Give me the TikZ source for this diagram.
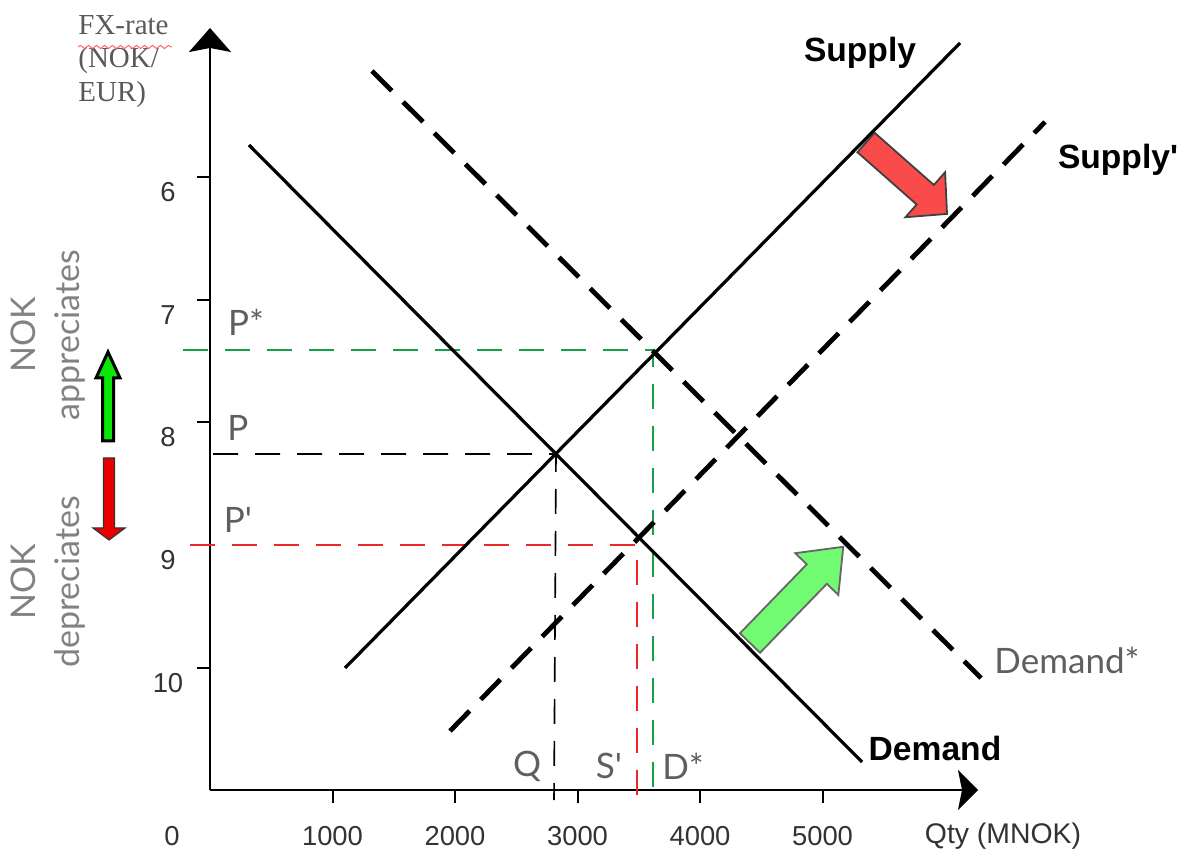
\documentclass[tikz,border=0pt]{standalone}
\usepackage{fontspec}
\setmainfont{Liberation Sans}
\newfontfamily\labfont{Lato}
\newfontfamily\fxfont{Liberation Serif}
\usetikzlibrary{arrows.meta,decorations.pathmorphing}
\definecolor{guidegreen}{RGB}{20,160,70}
\definecolor{guidered}{RGB}{235,40,40}
\definecolor{labgray}{RGB}{95,95,95}
\definecolor{nokgray}{RGB}{130,130,130}
\definecolor{shiftred}{RGB}{250,75,75}
\definecolor{shiftgreen}{RGB}{115,250,115}
\definecolor{upgreen}{RGB}{10,230,10}
\definecolor{downred}{RGB}{235,0,0}
\begin{document}
\begin{tikzpicture}[x=0.5pt,y=-0.5pt,
		curve/.style={line width=1.6pt},
		shifted/.style={line width=2.4pt,dash pattern=on 14pt off 8pt},
		guide/.style={line width=0.8pt,dash pattern=on 12.5pt off 8.5pt},
		axis/.style={line width=1pt},
		curvelabel/.style={font=\bfseries\fontsize{16.8}{20}\selectfont},
		pricelabel/.style={text=labgray,font=\labfont\fontsize{17.5}{21}\selectfont},
		ticklabel/.style={text=black!80,font=\fontsize{13.7}{16}\selectfont},
		movelabel/.style={text=nokgray,rotate=90,align=center,font=\labfont\fontsize{17}{22}\selectfont},
		shiftarrow/.style={line width=0.9pt,line join=miter}]
	\useasboundingbox (0,0) rectangle (1187,854);
	\coordinate (O) at (210,790);
	\coordinate (ytip) at (210,28);
	\coordinate (xtip) at (978,790);
	\draw[axis,-{Stealth[width=21pt,length=12pt,inset=2pt]}] (O)--(ytip);
	\draw[axis,-{Stealth[width=20pt,length=10pt,inset=2pt]}] (O)--(xtip);
	\foreach \k in {6,...,10} {
		\pgfmathsetmacro\yy{177+122.75*(\k-6)}
		\draw[axis] (197,\yy)--(210,\yy);
		\node[ticklabel] (y\k) at (168,\yy+15) {\k};
	};
	\foreach \k in {1,...,5} {
		\pgfmathtruncatemacro\result{1000*\k}
		\draw[axis] (210+122.5*\k,790)--(210+122.5*\k,803);
		\node[ticklabel] (x\k) at (210+122.5*\k,836) {\result};
	};
	\node[ticklabel] (x0) at (172,836) {0};
	\node[ticklabel,font=\fontsize{14.2}{16}\selectfont] (qty) at (1003,836) {Qty (MNOK)};
	\node[anchor=north west,inner sep=0pt,align=left,text=black!65,font=\fxfont\fontsize{14.5}{16.8}\selectfont] (fx) at (78,15) {FX-rate\\(NOK/\\EUR)};
	\draw[red!60,line width=0.5pt,decorate,decoration={snake,amplitude=0.8pt,segment length=4pt}] (fx.west|-0,47)--(172,47);
	\coordinate (S0) at (345,668);
	\coordinate (S1) at (960,43);
	\coordinate (D0) at (249,145);
	\coordinate (D1) at (862,762);
	\coordinate (Sb0) at (450,731);
	\coordinate (Sb1) at (1045,122);
	\coordinate (Db0) at (372,71);
	\coordinate (Db1) at (981,678);
	\coordinate (E) at (556,454);
	\coordinate (Es) at (653,350);
	\coordinate (Ep) at (637,545);
	\coordinate (Pslev) at (183,350);
	\coordinate (Dsq) at (653,790);
	\coordinate (Plev) at (213,454);
	\coordinate (Qq) at (554,800);
	\coordinate (Pplev) at (190,545);
	\coordinate (Spq) at (637,805);
	\draw[guide,guidegreen] (Pslev)--(Es)--(Dsq);
	\draw[guide,black] (Plev)--(E)--(Qq);
	\draw[guide,guidered] (Pplev)--(Ep)--(Spq);
	\draw[curve] (S0)--(S1);
	\draw[curve] (D0)--(D1);
	\draw[shifted] (Sb0)--(Sb1);
	\draw[shifted] (Db0)--(Db1);
	\begin{scope}[shift={(866,142.5)},rotate=-41.4]
		\draw[shiftarrow,draw=black!75,fill=shiftred] (0,-13)--(79,-13)--(79,-30)--(108,0)--(79,30)--(79,13)--(0,13)--cycle;
	\end{scope}
	\begin{scope}[shift={(750,643)},rotate=45.9]
		\draw[shiftarrow,draw=black!60,fill=shiftgreen] (0,-14)--(96,-14)--(96,-30)--(134,0)--(96,30)--(96,14)--(0,14)--cycle;
	\end{scope}
	\draw[line width=1.5pt,fill=upgreen] (102.5,441)--(102.5,378)--(96,378)--(108,352)--(120,378)--(113.5,378)--(113.5,441)--cycle;
	\draw[line width=0.6pt,draw=black!80,fill=downred] (103.5,458)--(114.5,458)--(114.5,528)--(125,528)--(109,540)--(93,528)--(103.5,528)--cycle;
	\node[movelabel] (appr) at (48,335) {NOK\\appreciates};
	\node[movelabel] (depr) at (48,582) {NOK\\depreciates};
	\node[curvelabel] (supply) at (860,53) {Supply};
	\node[curvelabel] (supplyb) at (1118,160) {Supply\textquotesingle};
	\node[curvelabel] (demand) at (935,748) {Demand};
	\node[pricelabel] (demandb) at (1067,660) {Demand*};
	\node[pricelabel] (pstar) at (246,322) {P*};
	\node[pricelabel] (p) at (238,428) {P};
	\node[pricelabel] (pp) at (238,520) {P\textquotesingle};
	\node[pricelabel] (q) at (527,766) {Q};
	\node[pricelabel] (sp) at (609,766) {S\textquotesingle};
	\node[pricelabel] (dstar) at (683,766) {D*};
\end{tikzpicture}
\end{document}
